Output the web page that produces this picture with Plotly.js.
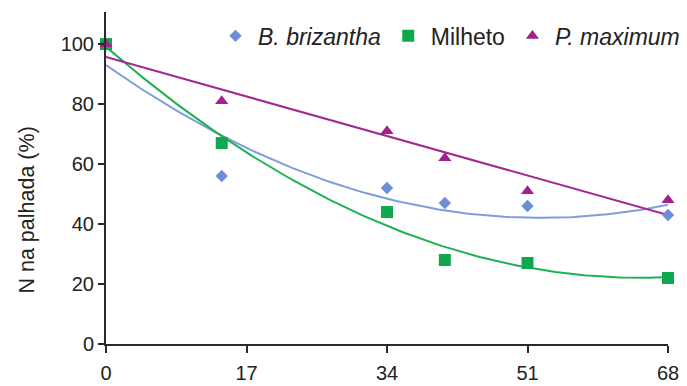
<!DOCTYPE html>
<html>
<head>
<meta charset="utf-8">
<script src="https://cdn.plot.ly/plotly-3.0.1.min.js"></script>
<style>
  html, body { margin: 0; padding: 0; background: #fff; }
  #chart { width: 687px; height: 386px; }
</style>
</head>
<body>
<div id="chart"></div>
<script>
// Dias após o manejo e N remanescente na palhada (%)
const dias = [0, 14, 34, 41, 51, 68];
const brizantha = [100, 56, 52, 47, 46, 43];
const milheto = [100, 67, 44, 28, 27, 22];
const maximum = [100, 81, 71, 62, 51, 48];
const xTicks = [0, 17, 34, 51, 68];
const yTicks = [0, 20, 40, 60, 80, 100];
const yTitle = 'N na palhada (%)';

// Least-squares polynomial fit of the given degree
function polyFit(xs, ys, deg) {
  const n = deg + 1;
  const A = [];
  for (let i = 0; i < n; i++) {
    A.push(new Array(n + 1).fill(0));
    for (let j = 0; j < n; j++) {
      A[i][j] = xs.reduce((s, x) => s + Math.pow(x, i + j), 0);
    }
    A[i][n] = xs.reduce((s, x, k) => s + ys[k] * Math.pow(x, i), 0);
  }
  for (let c = 0; c < n; c++) {
    let p = c;
    for (let r = c + 1; r < n; r++) if (Math.abs(A[r][c]) > Math.abs(A[p][c])) p = r;
    [A[c], A[p]] = [A[p], A[c]];
    for (let r = 0; r < n; r++) {
      if (r === c) continue;
      const f = A[r][c] / A[c][c];
      for (let k = c; k <= n; k++) A[r][k] -= f * A[c][k];
    }
  }
  return A.map((row, i) => row[n] / row[i]);
}

function trend(xs, ys, deg) {
  const coef = polyFit(xs, ys, deg);
  const x0 = Math.min(...xs), x1 = Math.max(...xs);
  const tx = [], ty = [];
  for (let i = 0; i <= 120; i++) {
    const x = x0 + (x1 - x0) * i / 120;
    tx.push(x);
    ty.push(coef.reduce((s, c, k) => s + c * Math.pow(x, k), 0));
  }
  return { tx, ty };
}

const series = [
  { name: '<i>B. brizantha</i>', y: brizantha, deg: 2, color: '#6c8ed4', line: '#7f9cdb', symbol: 'diamond', size: 9.5 },
  { name: 'Milheto', y: milheto, deg: 2, color: '#10a84e', line: '#1fb055', symbol: 'square', size: 12 },
  { name: '<i>P. maximum</i>', y: maximum, deg: 1, color: '#a1228e', line: '#a3288f', symbol: 'triangle-up', size: 11.5 }
];

const traces = [];
series.forEach(s => {
  const t = trend(dias, s.y, s.deg);
  traces.push({
    x: t.tx, y: t.ty, mode: 'lines', type: 'scatter',
    line: { color: s.line, width: 2 }, showlegend: false, hoverinfo: 'skip', cliponaxis: false
  });
});
series.forEach(s => {
  traces.push({
    x: dias, y: s.y, mode: 'markers', type: 'scatter', name: s.name,
    marker: { color: s.color, symbol: s.symbol, size: s.size, line: { width: 0 } },
    cliponaxis: false
  });
});

const layout = {
  width: 687, height: 386,
  margin: { l: 106, r: 19, t: 12, b: 42, autoexpand: false },
  paper_bgcolor: '#fff', plot_bgcolor: '#fff',
  font: { family: 'Liberation Sans, Arial, sans-serif', size: 20, color: '#222' },
  showlegend: true,
  legend: {
    orientation: 'h', x: 0.1904, xanchor: 'left', y: 0.928, yanchor: 'middle',
    font: { size: 23, color: '#222' }, bgcolor: 'rgba(0,0,0,0)', itemwidth: 35,
    tracegroupgap: 0
  },
  xaxis: {
    range: [0, 68], tickvals: xTicks, ticktext: xTicks.map(String),
    showgrid: false, zeroline: false, showline: true, linecolor: '#2a2a2a', linewidth: 2,
    ticks: 'outside', ticklen: 7, tickwidth: 2, tickcolor: '#2a2a2a',
    tickfont: { size: 20, color: '#222' }, ticklabelstandoff: 3, fixedrange: true
  },
  yaxis: {
    range: [0, 110.7], tickvals: yTicks,
    showgrid: false, zeroline: false, showline: true, linecolor: '#2a2a2a', linewidth: 2,
    ticks: 'outside', ticklen: 6, tickwidth: 2, tickcolor: '#2a2a2a',
    tickfont: { size: 20, color: '#222' }, fixedrange: true
  },
  annotations: [{
    text: yTitle, textangle: -90, showarrow: false,
    xref: 'paper', yref: 'paper', x: -0.1406, y: 0.405,
    xanchor: 'center', yanchor: 'middle',
    font: { size: 21.5, color: '#222' }
  }]
};

Plotly.newPlot('chart', traces, layout, { displayModeBar: false, staticPlot: true });
</script>
</body>
</html>
